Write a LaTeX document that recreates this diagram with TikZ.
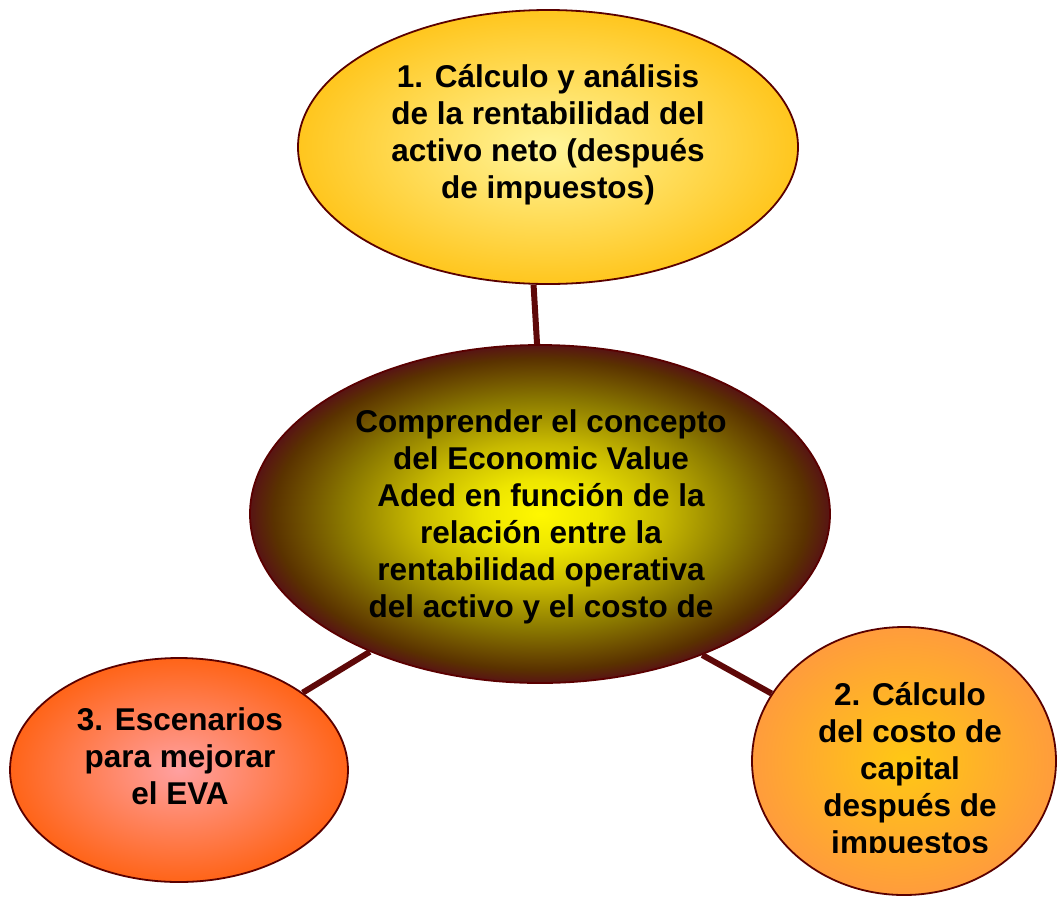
\documentclass[tikz,border=0pt]{standalone}
\usepackage{fontspec}
\setmainfont{Liberation Sans}
\usetikzlibrary{shapes.geometric}
\definecolor{edgec}{HTML}{5A0000}
\definecolor{linkc}{HTML}{5E0808}
\definecolor{topin}{HTML}{FFF59A}
\definecolor{topout}{HTML}{FFC61E}
\definecolor{cenA}{HTML}{FFF800}
\definecolor{cenB}{HTML}{EEE600}
\definecolor{cenC}{HTML}{C8BA00}
\definecolor{cenD}{HTML}{8A7800}
\definecolor{cenE}{HTML}{5A3200}
\definecolor{cenF}{HTML}{581414}
\definecolor{leftin}{HTML}{FFA0A0}
\definecolor{leftout}{HTML}{FF6418}
\definecolor{rightin}{HTML}{FFC814}
\definecolor{rightout}{HTML}{FF9C3C}
\pgfdeclareradialshading{censhade}{\pgfpoint{0bp}{0bp}}{color(0bp)=(cenA); color(5bp)=(cenB); color(10.5bp)=(cenC); color(17bp)=(cenD); color(23bp)=(cenE); color(25bp)=(cenF); color(50bp)=(cenF)}
\begin{document}
\begin{tikzpicture}[x=1pt,y=-1pt,
  bubble/.style={ellipse, draw=edgec, line width=1.8pt, inner sep=0pt},
  txt/.style={align=center, font=\fontsize{31.5}{37}\selectfont\bfseries, inner sep=0pt, text=black},
  link/.style={draw=linkc, line width=6pt}]
\clip (0,0) rectangle (1057,898);
\fill[white] (0,0) rectangle (1057,898);
\node[bubble, minimum width=500pt, minimum height=274pt, inner color=topin, outer color=topout] (top) at (548,147) {};
\node[bubble, minimum width=580pt, minimum height=338pt, shade, shading=censhade] (cen) at (540,514) {};
\node[bubble, minimum width=338pt, minimum height=224pt, inner color=leftin, outer color=leftout] (left) at (179,770) {};
\node[bubble, minimum width=304pt, minimum height=268pt, inner color=rightin, outer color=rightout] (right) at (904,761) {};
\draw[link] (top.264.6) -- (cen.91.7);
\draw[link] (cen.219.6) -- (left.32.8);
\draw[link] (cen.319) -- (right.153.4);
\node[txt] (t1) at (548,135) {1. Cálculo y análisis\\de la rentabilidad del\\activo neto (después\\de impuestos)};
\node[txt] (t0) at (541,517) {Comprender el concepto\\del Economic Value\\Aded en función de la\\relación entre la\\rentabilidad operativa\\del activo y el costo de};
\node[txt] (t3) at (180,756) {3. Escenarios\\para mejorar\\el EVA};
\begin{scope}
\clip (0,0) rectangle (1057,852);
\node[txt] (t2) at (910,771) {2. Cálculo\\del costo de\\capital\\después de\\impuestos};
\end{scope}
\end{tikzpicture}
\end{document}
